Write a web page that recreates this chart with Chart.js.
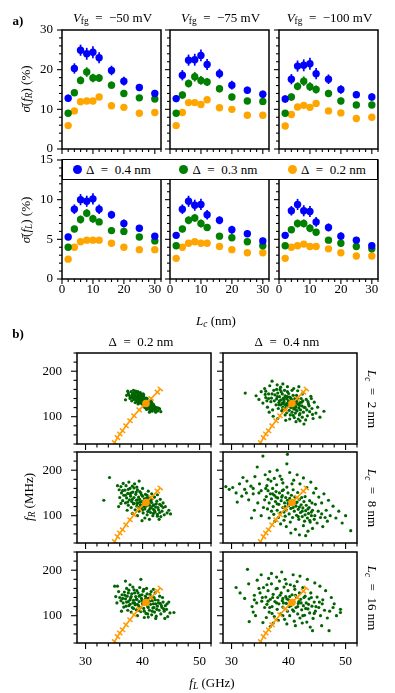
<!DOCTYPE html>
<html><head><meta charset="utf-8">
<script src="https://cdn.jsdelivr.net/npm/chart.js@4.4.1/dist/chart.umd.min.js"></script>
<style>
body{margin:0;background:#fff;width:395px;height:693px;position:relative;overflow:hidden;font-family:"Liberation Serif",serif;color:#000}
canvas{position:absolute}
.t{position:absolute;white-space:nowrap;font-size:13px;line-height:1;z-index:6}
.s{font-size:72%;vertical-align:-0.3em;line-height:0}
</style></head><body>
<script>
// ---------- panel a data ----------
const Lc = [2,4,6,8,10,12,16,20,25,30];
const vfgLabels = ['−50','−75','−100'];
const deltaLabels = ['0.4','0.3','0.2'];
const colorsA = ['#0000ff','#008000','#ffa500'];
// sigma(f_R) in %
const sigR_m50_d04 = [12.8,20.3,24.9,24.0,24.4,23.0,19.8,17.1,15.5,14.0];
const sigR_m50_d03 = [9.0,14.2,17.3,19.4,17.9,17.9,16.1,14.0,12.9,12.6];
const sigR_m50_d02 = [5.9,9.6,11.9,12.1,12.1,13.1,10.9,10.5,9.0,9.2];
const sigR_m75_d04 = [12.7,18.6,22.4,22.5,23.6,21.3,19.0,16.1,14.8,13.8];
const sigR_m75_d03 = [9.0,13.6,16.5,18.2,17.3,16.9,15.2,13.1,12.1,12.0];
const sigR_m75_d02 = [5.9,9.2,11.7,11.7,11.2,12.4,10.4,10.0,8.5,8.5];
const sigR_m100_d04 = [12.6,17.6,20.9,21.1,21.5,19.0,17.6,15.0,13.7,13.1];
const sigR_m100_d03 = [9.0,13.1,15.8,17.1,15.7,15.0,14.0,12.1,11.1,11.1];
const sigR_m100_d02 = [5.8,8.7,10.6,11.0,10.5,11.5,9.6,9.1,7.7,8.0];
// sigma(f_L) in %
const sigL_m50_d04 = [5.3,8.8,10.0,9.8,10.1,8.8,8.1,7.0,6.4,5.4];
const sigL_m50_d03 = [4.0,6.3,7.5,8.3,7.6,7.2,6.1,6.0,5.3,4.8];
const sigL_m50_d02 = [2.5,4.0,4.7,4.9,4.9,4.9,4.5,4.0,3.7,3.7];
const sigL_m75_d04 = [5.5,8.8,9.8,9.3,9.4,8.1,7.4,6.2,5.7,4.8];
const sigL_m75_d03 = [4.2,6.3,7.4,7.7,7.0,6.5,5.4,5.2,4.7,4.2];
const sigL_m75_d02 = [2.6,4.0,4.5,4.7,4.5,4.5,4.1,3.7,3.3,3.3];
const sigL_m100_d04 = [5.5,8.6,9.4,8.6,8.5,7.2,6.5,5.4,4.9,4.2];
const sigL_m100_d03 = [4.2,6.2,7.0,7.0,6.4,5.9,4.9,4.5,4.1,3.8];
const sigL_m100_d02 = [2.6,4.0,4.2,4.4,4.1,4.1,3.8,3.3,2.9,2.9];
// error bars
const errR_d04 = [0.9,1.3,1.4,1.5,1.5,1.4,1.2,1.1,0.9,0.9];
const errR_d03 = [0.7,0.9,1.0,1.2,1.1,1.0,0.9,0.8,0.7,0.7];
const errR_d02 = [0.3,0.3,0.3,0.3,0.3,0.3,0.3,0.3,0.3,0.3];
const errL_d04 = [0.4,0.6,0.7,0.7,0.7,0.6,0.5,0.5,0.4,0.4];
const errL_d03 = [0.3,0.4,0.5,0.5,0.5,0.4,0.4,0.4,0.3,0.3];
const errL_d02 = [0.15,0.15,0.15,0.15,0.15,0.15,0.15,0.15,0.15,0.15];

// ---------- panel b data ----------
const lcLabels = ['2','8','16'];
const colDeltaLabels = ['0.2','0.4'];
const guideFL = [34.95,35.1,35.6,36.0,36.5,37.1,37.8,38.5,39.4,40.5,41.5,42.6,43.1];
const guideFR = [40,43,54,62,69,80,91,102,115,128,140,154,161];
const meanFL = [40.6];
const meanFR = [129];
const cloud_d02_L2 = [[37.2,147],[37.5,152],[37.8,140],[38.0,155],[38.2,145],[38.3,150],[38.5,138],[38.6,148],[38.8,156],[38.9,142],[39.0,135],[39.1,151],[39.2,144],[39.3,139],[39.4,147],[39.5,132],[39.6,141],[39.7,136],[39.8,149],[39.9,128],[40.0,138],[40.1,133],[40.2,143],[40.3,126],[40.4,130],[40.5,137],[40.6,122],[40.7,131],[40.8,127],[40.9,118],[41.0,134],[41.1,124],[41.2,129],[41.3,115],[41.4,121],[41.5,127],[41.7,112],[41.8,119],[42.0,124],[42.1,116],[42.3,110],[42.5,120],[42.7,113],[43.0,117],[43.2,111],[38.1,135],[38.7,131],[39.2,128],[39.6,153],[40.0,146],[40.4,120],[40.8,140],[41.2,110],[41.6,132],[37.0,137],[38.4,158],[39.9,140],[40.2,124],[40.6,128],[39.4,130],[39.0,146],[41.9,127],[42.2,121],[37.8,144],[38.9,137],[40.7,116],[41.4,136],[39.7,144],[40.1,150],[38.3,141],[38.2,149],[38.5,152],[38.7,144],[38.9,153],[39.0,140],[39.1,133],[39.3,150],[39.4,136],[39.6,146],[39.7,131],[39.8,142],[39.9,136],[40.0,130],[40.1,142],[40.2,135],[40.3,139],[40.4,125],[40.5,132],[40.6,141],[40.7,124],[40.8,134],[40.9,129],[41.0,121],[41.1,130],[41.2,119],[41.3,126],[41.4,114],[41.6,122],[41.7,117],[41.9,122],[42.2,114],[42.4,117],[42.8,119],[38.0,143],[37.6,148],[37.4,156],[39.2,155],[40.2,148]];
const cloud_d04_L2 = [[37.6,148],[37.9,139],[38.1,152],[38.3,131],[38.4,144],[38.6,126],[38.7,137],[38.9,150],[39.0,121],[39.1,141],[39.2,133],[39.4,146],[39.5,118],[39.6,128],[39.7,139],[39.8,155],[39.9,124],[40.0,135],[40.1,114],[40.2,143],[40.3,129],[40.4,120],[40.5,138],[40.6,110],[40.7,132],[40.8,147],[40.9,117],[41.0,126],[41.1,140],[41.2,108],[41.3,122],[41.4,134],[41.5,113],[41.6,128],[41.8,119],[41.9,104],[42.0,131],[42.1,115],[42.3,124],[42.4,99],[37.8,126],[38.2,118],[38.5,160],[38.8,113],[39.3,158],[39.7,109],[40.0,151],[40.3,104],[40.6,158],[41.0,98],[41.4,147],[41.7,95],[42.2,140],[42.6,110],[39.1,128],[39.9,131],[40.5,125],[38.4,135],[41.2,130],[39.6,143],[32.4,152],[34.3,146],[34.8,138],[35.2,155],[35.5,130],[35.8,162],[36.0,142],[36.3,121],[36.5,150],[36.7,168],[36.9,133],[37.1,178],[37.2,115],[37.4,158],[37.0,141],[36.2,135],[35.9,149],[38.0,170],[38.6,165],[39.0,172],[39.4,104],[39.8,166],[40.2,95],[40.9,162],[41.3,89],[41.6,157],[42.0,91],[42.4,150],[42.7,84],[42.9,120],[43.1,138],[43.3,102],[43.5,128],[43.7,111],[43.9,145],[44.1,118],[44.3,96],[44.5,132],[44.8,108],[45.1,121],[45.5,99],[46.2,112],[43.0,93],[42.5,135],[37.3,101],[38.1,96],[44.0,140],[36.6,110],[39.5,92],[41.8,166],[38.9,130],[39.2,138],[39.5,125],[39.8,144],[40.1,133],[40.4,141],[40.7,122],[41.0,135],[41.3,115],[41.6,140],[41.9,125],[42.3,132],[42.7,121],[43.2,115],[43.6,124],[38.0,144],[38.3,126],[37.5,135],[37.1,150],[36.5,140],[36.0,156],[40.2,127],[39.0,117],[41.1,120],[42.0,107],[43.4,133],[44.2,105],[40.8,103],[38.7,155],[37.9,160]];
const cloud_d02_L8 = [[36.0,140],[36.3,150],[36.5,133],[36.7,145],[36.9,156],[37.0,128],[37.2,139],[37.4,149],[37.5,123],[37.7,135],[37.8,160],[37.9,143],[38.0,118],[38.1,131],[38.3,152],[38.4,126],[38.5,140],[38.7,113],[38.8,147],[38.9,134],[39.0,121],[39.1,157],[39.2,128],[39.3,141],[39.4,110],[39.5,136],[39.6,124],[39.7,150],[39.8,118],[39.9,131],[40.0,143],[40.1,106],[40.2,126],[40.3,137],[40.4,115],[40.5,147],[40.6,121],[40.7,132],[40.8,102],[40.9,127],[41.0,140],[41.1,112],[41.2,123],[41.3,135],[41.4,107],[41.5,118],[41.6,129],[41.8,100],[41.9,114],[42.0,124],[42.2,108],[42.3,119],[42.5,132],[42.6,103],[42.8,113],[43.0,125],[43.2,98],[43.4,110],[43.6,118],[43.8,102],[44.0,120],[44.3,106],[44.6,112],[44.9,104],[34.2,184],[33.2,134],[35.6,166],[35.9,157],[36.2,164],[36.6,171],[37.1,166],[37.6,174],[38.2,165],[38.6,170],[39.0,163],[39.4,176],[40.0,160],[41.0,154],[41.6,148],[42.1,141],[42.6,146],[43.1,136],[39.9,89],[40.4,95],[39.1,100],[41.2,92],[38.2,105],[37.3,112],[35.8,120],[36.2,127],[42.9,92],[43.6,128],[37.0,145],[37.4,130],[37.8,148],[38.2,136],[38.5,127],[38.9,152],[39.1,135],[39.3,118],[39.6,130],[39.8,146],[40.0,113],[40.2,131],[40.5,124],[40.7,139],[40.9,109],[41.1,126],[41.3,116],[41.6,136],[41.8,122],[42.1,111],[42.4,126],[42.7,118],[43.0,107],[43.3,122],[36.5,155],[37.5,158],[38.5,161],[39.5,153],[40.8,145],[41.9,105],[42.6,99],[39.0,127],[38.0,150],[40.3,120],[41.4,131]];
const cloud_d04_L8 = [[36.1,142],[36.4,155],[36.6,128],[36.8,148],[37.0,137],[37.2,160],[37.3,120],[37.5,145],[37.7,131],[37.8,153],[38.0,112],[38.1,139],[38.3,125],[38.4,150],[38.6,106],[38.7,133],[38.9,144],[39.0,118],[39.1,157],[39.3,128],[39.4,99],[39.5,140],[39.6,113],[39.8,134],[39.9,150],[40.0,122],[40.1,104],[40.2,138],[40.4,116],[40.5,145],[40.6,127],[40.7,96],[40.9,133],[41.0,110],[41.1,141],[41.3,121],[41.4,101],[41.5,130],[41.7,114],[41.8,92],[41.9,136],[42.1,107],[42.2,124],[42.4,98],[42.5,117],[42.7,131],[42.8,88],[43.0,111],[43.1,123],[43.3,95],[43.5,105],[43.6,118],[43.8,86],[44.0,100],[37.4,103],[38.2,96],[39.2,90],[36.3,115],[37.9,168],[39.7,163],[40.8,157],[41.6,151],[42.9,142],[43.7,133],[36.9,176],[38.8,180],[44.2,112],[44.5,92],[35.8,135],[40.3,86],[29.0,164],[29.6,158],[30.2,162],[30.8,150],[31.4,170],[31.8,143],[32.3,158],[32.7,176],[33.0,135],[33.4,165],[33.8,148],[34.1,186],[34.5,207],[34.6,128],[34.9,170],[35.2,155],[35.5,231],[35.6,118],[35.9,190],[36.2,166],[36.7,197],[37.0,110],[37.5,182],[38.0,200],[38.5,187],[39.0,172],[39.7,214],[39.8,235],[40.2,195],[40.9,178],[41.5,190],[42.0,170],[42.6,183],[43.2,162],[43.9,174],[44.4,150],[44.8,160],[45.3,141],[45.8,128],[46.2,148],[46.6,112],[47.0,134],[47.3,100],[47.8,121],[48.3,95],[48.8,110],[49.4,84],[50.0,100],[50.9,67],[45.0,84],[45.6,96],[46.0,76],[44.2,72],[43.4,66],[42.6,78],[41.9,58],[41.2,70],[40.4,62],[39.6,76],[38.6,82],[37.6,88],[36.6,95],[35.2,100],[34.0,112],[33.5,95],[44.7,125],[46.8,88],[43.0,56],[31.0,130],[32.0,184],[37.2,148],[38.0,126],[38.8,141],[39.4,120],[39.9,127],[40.3,131],[40.8,118],[41.3,128],[41.9,119],[42.4,110],[42.9,102],[43.4,115],[44.0,108],[44.6,100],[45.2,110],[45.8,104],[46.4,96],[36.0,160],[34.8,150],[33.8,160],[32.6,150],[37.8,141],[38.9,155],[40.6,170],[39.2,108],[41.7,98],[43.7,90],[42.3,140],[44.1,128],[36.4,180]];
const cloud_d02_L16 = [[36.0,140],[36.2,133],[36.4,146],[36.6,128],[36.8,152],[37.0,137],[37.1,121],[37.3,143],[37.5,131],[37.6,156],[37.8,125],[37.9,139],[38.1,148],[38.2,118],[38.4,134],[38.5,157],[38.6,128],[38.8,142],[38.9,113],[39.0,136],[39.2,150],[39.3,122],[39.4,131],[39.6,145],[39.7,109],[39.8,138],[40.0,126],[40.1,154],[40.2,116],[40.4,133],[40.5,143],[40.6,105],[40.8,129],[40.9,120],[41.0,138],[41.2,112],[41.3,147],[41.4,125],[41.6,102],[41.7,133],[41.8,117],[42.0,140],[42.1,108],[42.3,126],[42.4,99],[42.6,121],[42.7,134],[42.9,112],[43.1,127],[43.2,104],[43.4,118],[43.6,130],[43.8,110],[44.0,122],[44.2,114],[37.4,112],[38.0,108],[39.1,100],[40.3,96],[41.5,153],[40.7,160],[39.5,162],[38.3,163],[37.2,160],[43.0,143],[42.2,150],[36.7,119],[39.9,133],[40.6,138],[38.7,124],[35.1,165],[35.6,165],[37.0,176],[39.7,180],[45.5,107],[42.3,94],[43.9,94],[35.3,142],[35.5,128],[44.6,130],[44.8,106],[36.3,110],[41.0,97],[43.5,140],[41.9,158],[44.4,98],[37.8,168],[35.8,153],[36.5,138],[36.9,145],[37.2,130],[37.5,150],[37.8,135],[38.0,142],[38.3,128],[38.6,150],[38.9,136],[39.1,125],[39.4,143],[39.6,118],[39.9,146],[40.1,130],[40.3,110],[40.5,136],[40.8,148],[41.0,118],[41.2,132],[41.5,141],[41.7,110],[41.9,126],[42.2,135],[42.5,114],[42.8,128],[43.3,122],[43.7,115],[44.3,126],[38.4,116],[39.3,112],[40.2,158],[37.6,122],[42.0,118],[40.9,104],[39.0,155]];
const cloud_d04_L16 = [[35.0,150],[35.3,132],[35.6,162],[35.8,118],[36.0,141],[36.2,125],[36.4,155],[36.6,108],[36.8,136],[37.0,170],[37.1,120],[37.3,147],[37.5,98],[37.6,131],[37.8,159],[38.0,114],[38.1,140],[38.3,126],[38.4,176],[38.6,104],[38.7,150],[38.9,133],[39.0,119],[39.2,163],[39.3,92],[39.5,142],[39.6,127],[39.8,110],[39.9,155],[40.0,135],[40.2,100],[40.3,168],[40.4,122],[40.6,146],[40.7,113],[40.9,131],[41.0,88],[41.1,158],[41.3,118],[41.4,140],[41.6,104],[41.7,127],[41.9,150],[42.0,95],[42.1,136],[42.3,113],[42.5,162],[42.6,122],[42.8,101],[42.9,143],[43.1,128],[43.2,86],[43.4,115],[43.6,137],[43.7,106],[43.9,150],[44.1,121],[44.3,94],[44.5,130],[44.7,110],[45.0,141],[45.3,118],[45.6,100],[45.9,126],[46.3,112],[37.9,185],[39.4,180],[41.5,175],[36.5,182],[40.8,190],[38.2,90],[39.7,82],[41.2,78],[42.4,84],[43.8,75],[37.3,84],[36.1,96],[40.1,120],[39.0,138],[41.8,131],[30.8,162],[32.8,202],[31.5,150],[32.3,138],[33.1,87],[33.0,170],[33.6,120],[34.0,145],[34.2,100],[34.5,178],[34.8,160],[35.2,190],[34.4,128],[33.8,108],[35.5,85],[36.8,76],[44.2,67],[47.1,67],[49.1,114],[49.1,107],[48.0,126],[47.5,140],[46.8,95],[46.5,155],[47.2,110],[45.8,78],[45.5,165],[44.6,172],[43.3,180],[42.0,187],[38.8,196],[37.0,193],[46.0,135],[48.4,100],[36.4,132],[37.2,140],[37.9,128],[38.5,145],[39.1,128],[39.7,137],[40.2,142],[40.5,128],[40.9,110],[41.2,145],[41.6,120],[42.2,128],[42.7,140],[43.0,116],[43.5,125],[44.0,140],[44.8,120],[45.4,130],[38.0,160],[39.6,170],[41.0,165],[36.2,168],[35.4,140],[37.1,105],[39.0,100],[42.5,100],[44.5,105],[47.8,118],[34.0,135],[36.7,118]];

// tables built from the arrays
const tableR = [[sigR_m50_d04,sigR_m50_d03,sigR_m50_d02],[sigR_m75_d04,sigR_m75_d03,sigR_m75_d02],[sigR_m100_d04,sigR_m100_d03,sigR_m100_d02]];
const tableL = [[sigL_m50_d04,sigL_m50_d03,sigL_m50_d02],[sigL_m75_d04,sigL_m75_d03,sigL_m75_d02],[sigL_m100_d04,sigL_m100_d03,sigL_m100_d02]];
const errTable = [[errR_d04,errR_d03,errR_d02],[errL_d04,errL_d03,errL_d02]];
const tableB = [[cloud_d02_L2,cloud_d04_L2],[cloud_d02_L8,cloud_d04_L8],[cloud_d02_L16,cloud_d04_L16]];

// ---------- drawing ----------
const FONT = 'Liberation Serif';
Chart.defaults.font.family = FONT;
Chart.defaults.color = '#000';

const deco = {
  id:'deco',
  beforeDatasetsDraw(chart){
    const {ctx, chartArea:a} = chart; const xs=chart.scales.x, ys=chart.scales.y;
    ctx.save(); ctx.beginPath(); ctx.rect(a.left,a.top,a.right-a.left,a.bottom-a.top); ctx.clip();
    chart.data.datasets.forEach(ds=>{
      if(!ds.yErr) return;
      ctx.strokeStyle=ds.backgroundColor; ctx.lineWidth=1.7;
      ds.data.forEach((p,j)=>{const x=xs.getPixelForValue(p.x);ctx.beginPath();ctx.moveTo(x,ys.getPixelForValue(p.y-ds.yErr[j]));ctx.lineTo(x,ys.getPixelForValue(p.y+ds.yErr[j]));ctx.stroke();});
    });
    ctx.restore();
  },
  afterDatasetsDraw(chart){
    const {ctx, chartArea:a} = chart; const xs=chart.scales.x, ys=chart.scales.y;
    ctx.save(); ctx.beginPath(); ctx.rect(a.left,a.top,a.right-a.left,a.bottom-a.top); ctx.clip();
    chart.data.datasets.forEach(ds=>{
      if(!ds.perp) return;
      const pts = ds.data.map(p=>[xs.getPixelForValue(p.x),ys.getPixelForValue(p.y)]);
      const f=pts[0], l=pts[pts.length-1];
      let dx=l[0]-f[0], dy=l[1]-f[1]; const n=Math.hypot(dx,dy); dx/=n; dy/=n;
      const px=-dy, py=dx, h=3.4;
      ctx.strokeStyle=ds.borderColor; ctx.lineWidth=1.5;
      pts.slice(1).forEach(p=>{ctx.beginPath();ctx.moveTo(p[0]-px*h,p[1]-py*h);ctx.lineTo(p[0]+px*h,p[1]+py*h);ctx.stroke();});
    });
    ctx.restore();
  },
  afterDraw(chart, args, o){
    const {ctx, chartArea:a} = chart; const xs=chart.scales.x, ys=chart.scales.y;
    const rng=(mn,mx,st)=>{const r=[];for(let k=Math.ceil(mn/st-1e-9);k*st<=mx+1e-9;k++) r.push(k*st);return r;};
    const isMaj=(v,m)=>Math.abs(v/m-Math.round(v/m))<1e-6;
    ctx.save(); ctx.strokeStyle='#000'; ctx.lineWidth=1.1;
    rng(xs.min,xs.max,o.xMinor).forEach(v=>{const x=xs.getPixelForValue(v);const len=isMaj(v,o.xMajor)?o.maj:o.mnr;ctx.beginPath();ctx.moveTo(x,a.bottom);ctx.lineTo(x,a.bottom+len);ctx.stroke();});
    rng(ys.min,ys.max,o.yMinor).forEach(v=>{const y=ys.getPixelForValue(v);const len=isMaj(v,o.yMajor)?o.maj:o.mnr;ctx.beginPath();ctx.moveTo(a.left,y);ctx.lineTo(a.left-len,y);ctx.stroke();});
    ctx.lineWidth=1.5; ctx.strokeRect(a.left,a.top,a.right-a.left,a.bottom-a.top);
    ctx.restore();
  }
};

function makeChart(area, m, datasets, sc){
  const c = document.createElement('canvas');
  c.width = area.w + m.L + m.R; c.height = area.h + m.T + m.B;
  c.style.left = (area.x - m.L)+'px'; c.style.top = (area.y - m.T)+'px';
  document.body.appendChild(c);
  const tickFont = {family:FONT, size:13};
  new Chart(c, {
    type:'scatter',
    data:{datasets},
    options:{
      responsive:false, animation:false, events:[],
      layout:{padding:{top:m.T,right:m.R,left:0,bottom:0}},
      plugins:{legend:{display:false},tooltip:{enabled:false},
        deco:{xMajor:sc.xMajor,xMinor:sc.xMinor,yMajor:sc.yMajor,yMinor:sc.yMinor,maj:sc.maj,mnr:sc.mnr}},
      scales:{
        x:{type:'linear',min:sc.xmin,max:sc.xmax,
          afterBuildTicks:s=>{s.ticks=sc.xTicks.map(v=>({value:v}));},
          afterFit:s=>{s.height=m.B;},
          grid:{display:false,drawTicks:false},border:{display:false},
          ticks:{display:sc.showX,padding:sc.xPad,font:tickFont,color:'#000',maxRotation:0,autoSkip:false}},
        y:{type:'linear',min:sc.ymin,max:sc.ymax,
          afterBuildTicks:s=>{s.ticks=sc.yTicks.map(v=>({value:v}));},
          afterFit:s=>{s.width=m.L;},
          grid:{display:false,drawTicks:false},border:{display:false},
          ticks:{display:sc.showY,padding:sc.yPad,font:tickFont,color:'#000',autoSkip:false}}
      }
    },
    plugins:[deco]
  });
}

// panel a
const colsA=[62,170,279], rowsA=[30,160], wA=99, hA=119;
const mA={L:46,R:12,T:34,B:28};
for(let r=0;r<2;r++){
  for(let c=0;c<3;c++){
    const tab = r===0 ? tableR[c] : tableL[c];
    const datasets = tab.map((vals,k)=>({
      data: Lc.map((x,i)=>({x, y:vals[i]})),
      yErr: errTable[r][k],
      backgroundColor: colorsA[k], borderWidth:0, pointRadius:3.7
    }));
    makeChart({x:colsA[c],y:rowsA[r],w:wA,h:hA}, mA, datasets, {
      xmin:0,xmax:32,xTicks:[0,10,20,30],xMajor:10,xMinor:2,
      ymin:0,ymax:r===0?30:15,yTicks:r===0?[0,10,20,30]:[0,5,10,15],yMajor:r===0?10:5,yMinor:r===0?2:1,
      maj:5,mnr:3,showX:r===1,showY:c===0,xPad:3,yPad:9
    });
  }
}

// panel b
const colsB=[77,223], rowsB=[353,452,552], wB=134, hB=91;
const mB={L:50,R:12,T:34,B:34};
const orange='#ff9a00';
for(let r=0;r<3;r++){
  for(let c=0;c<2;c++){
    const datasets = [
      {data: meanFL.map((x,i)=>({x,y:meanFR[i]})), backgroundColor:orange, borderWidth:0, pointRadius:3.8},
      {data: guideFL.map((x,i)=>({x,y:guideFR[i]})), showLine:true, perp:true, borderColor:orange, backgroundColor:orange, borderWidth:1.7, pointRadius:0},
      {data: tableB[r][c].map(p=>({x:p[0],y:p[1]})), backgroundColor:'#006400', borderWidth:0, pointRadius:1.6}
    ];
    makeChart({x:colsB[c],y:rowsB[r],w:wB,h:hB}, mB, datasets, {
      xmin:28.5,xmax:52,xTicks:[30,40,50],xMajor:10,xMinor:2,
      ymin:40,ymax:240,yTicks:[100,200],yMajor:100,yMinor:20,
      maj:6,mnr:3.5,showX:r===2,showY:c===0,xPad:11,yPad:15
    });
  }
}

// ---------- text ----------
function txt(html,cx,cy,o={}){
  const d=document.createElement('div'); d.className='t'; d.innerHTML=html;
  d.style.left=cx+'px'; d.style.top=cy+'px';
  if(o.size) d.style.fontSize=o.size+'px';
  if(o.bold) d.style.fontWeight='bold';
  d.style.transform='translate(-50%,-50%)'+(o.rot?` rotate(${o.rot}deg)`:'');
  document.body.appendChild(d);
}
txt('a)',18,20,{bold:true,size:13});
txt('b)',18,333,{bold:true,size:13});
vfgLabels.forEach((v,i)=>txt(`<i>V</i><span class="s">fg</span>&ensp;=&ensp;${v}&nbsp;mV`, colsA[i]+wA/2+1, 17));
txt('<i>σ̄</i>(<i>f<span class="s">R</span></i>)&nbsp;(%)',25,89,{rot:-90});
txt('<i>σ̄</i>(<i>f<span class="s">L</span></i>)&nbsp;(%)',25,220,{rot:-90});
txt('<i>L<span class="s">c</span></i>&nbsp;(nm)',216,320);
colDeltaLabels.forEach((d,i)=>txt(`Δ&ensp;=&ensp;${d}&nbsp;nm`, colsB[i]+wB/2-3, 341));
lcLabels.forEach((l,i)=>txt(`<i>L<span class="s">c</span></i>&ensp;=&ensp;${l}&nbsp;nm`, 372, rowsB[i]+hB/2, {rot:90}));
txt('<i>f<span class="s">R</span></i>&nbsp;(MHz)',28,497,{rot:-90});
txt('<i>f<span class="s">L</span></i>&nbsp;(GHz)',212,682);

// legend
const leg=document.createElement('div');
leg.style.cssText='position:absolute;left:62px;top:159px;width:316px;height:21px;border:1.3px solid #000;background:#fff;box-sizing:border-box;z-index:5';
document.body.appendChild(leg);
const legX=[14,120.5,229];
deltaLabels.forEach((d,k)=>{
  const m=document.createElement('div');
  m.style.cssText=`position:absolute;left:${legX[k]-4.5}px;top:5px;width:9px;height:9px;border-radius:50%;background:${colorsA[k]}`;
  leg.appendChild(m);
  const t=document.createElement('div');
  t.style.cssText=`position:absolute;left:${legX[k]+9}px;top:3px;font-size:13px;line-height:1;white-space:nowrap`;
  t.innerHTML=`Δ&ensp;=&ensp;${d}&nbsp;nm`;
  leg.appendChild(t);
});
</script>
</body></html>
